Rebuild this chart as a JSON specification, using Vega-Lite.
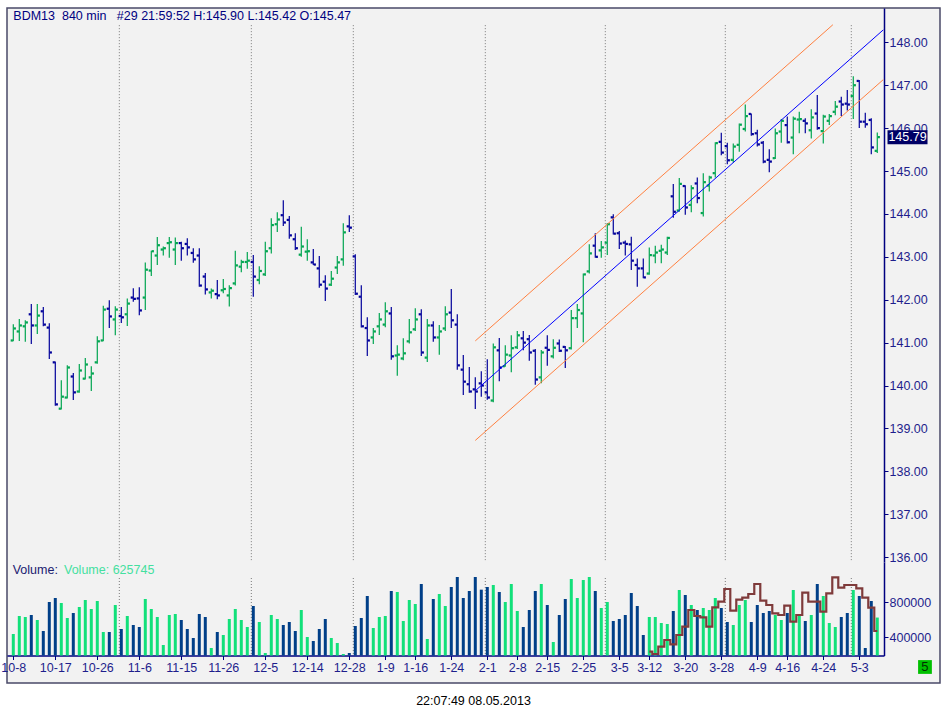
{
"$schema": "https://vega.github.io/schema/vega-lite/v6.json",
"width": 933, "height": 675,
"autosize": {"type": "none"},
"padding": {"left": 7, "top": 8, "right": 2, "bottom": 35},
"background": "#ffffff",
"config": {"font": "Liberation Sans", "view": {"fill": "#f2f2f2", "stroke": "#4a4a68", "strokeWidth": 1.5}},
"title": {"text": "22:07:49 08.05.2013", "orient": "bottom", "anchor": "middle", "offset": 12, "fontSize": 12.5, "fontWeight": "normal", "color": "#000000", "font": "Liberation Sans"},
"datasets": {
"months": [{"g": 17.67}, {"g": 39.67}, {"g": 56.67}, {"g": 78.67}, {"g": 98.67}, {"g": 118.67}, {"g": 139.67}],
"chan": [
{"ln": "upper", "i": 77.0, "p": 141.04}, {"ln": "upper", "i": 136.6, "p": 148.41},
{"ln": "mid", "i": 77.1, "p": 139.89}, {"ln": "mid", "i": 145.0, "p": 148.29},
{"ln": "lower", "i": 77.0, "p": 138.72}, {"ln": "lower", "i": 145.0, "p": 147.13}
],
"bars": [
{"i":0,"d":"10-8","o":141.05,"h":141.43,"l":141.03,"c":141.33,"v":437700},
{"i":1,"d":"10-9","o":141.26,"h":141.55,"l":141.04,"c":141.40,"v":643400},
{"i":2,"d":"10-10","o":141.38,"h":141.52,"l":141.02,"c":141.47,"v":632000},
{"i":3,"d":"10-11","o":141.66,"h":141.90,"l":140.97,"c":141.40,"v":654900},
{"i":4,"d":"10-12","o":141.40,"h":141.90,"l":141.20,"c":141.63,"v":597700},
{"i":5,"d":"10-15","o":141.73,"h":141.83,"l":141.38,"c":141.42,"v":472000},
{"i":6,"d":"10-16","o":141.35,"h":141.45,"l":140.62,"c":140.77,"v":803400},
{"i":7,"d":"10-17","o":140.54,"h":140.56,"l":139.53,"c":139.56,"v":849100},
{"i":8,"d":"10-18","o":139.46,"h":140.12,"l":139.44,"c":139.74,"v":792000},
{"i":9,"d":"10-19","o":139.72,"h":140.47,"l":139.70,"c":140.42,"v":620600},
{"i":10,"d":"10-22","o":140.21,"h":140.29,"l":139.66,"c":139.84,"v":677700},
{"i":11,"d":"10-23","o":139.86,"h":140.50,"l":139.83,"c":140.35,"v":746300},
{"i":12,"d":"10-24","o":140.16,"h":140.64,"l":140.14,"c":140.49,"v":826300},
{"i":13,"d":"10-25","o":140.19,"h":140.45,"l":139.87,"c":140.28,"v":723400},
{"i":14,"d":"10-26","o":140.54,"h":141.15,"l":140.51,"c":141.03,"v":814900},
{"i":15,"d":"10-29","o":141.05,"h":141.86,"l":141.03,"c":141.77,"v":460600},
{"i":16,"d":"10-30","o":141.79,"h":141.99,"l":141.34,"c":141.61,"v":460600},
{"i":17,"d":"10-31","o":141.54,"h":141.85,"l":141.17,"c":141.77,"v":769100},
{"i":18,"d":"11-1","o":141.62,"h":141.83,"l":141.46,"c":141.59,"v":494900},
{"i":19,"d":"11-2","o":141.66,"h":142.03,"l":141.39,"c":141.91,"v":643400},
{"i":20,"d":"11-5","o":142.05,"h":142.27,"l":141.95,"c":142.02,"v":540600},
{"i":21,"d":"11-6","o":142.03,"h":142.29,"l":141.64,"c":141.75,"v":517700},
{"i":22,"d":"11-7","o":142.05,"h":142.87,"l":141.76,"c":142.70,"v":837700},
{"i":23,"d":"11-8","o":142.68,"h":143.14,"l":142.55,"c":143.13,"v":723400},
{"i":24,"d":"11-9","o":143.03,"h":143.46,"l":142.81,"c":143.27,"v":632000},
{"i":25,"d":"11-12","o":143.17,"h":143.24,"l":143.03,"c":143.20,"v":312000},
{"i":26,"d":"11-13","o":143.32,"h":143.46,"l":142.98,"c":143.34,"v":654900},
{"i":27,"d":"11-14","o":143.17,"h":143.45,"l":142.81,"c":143.32,"v":666300},
{"i":28,"d":"11-15","o":143.32,"h":143.35,"l":142.91,"c":143.20,"v":597700},
{"i":29,"d":"11-16","o":143.30,"h":143.43,"l":143.03,"c":143.22,"v":494900},
{"i":30,"d":"11-19","o":143.09,"h":143.20,"l":142.86,"c":142.94,"v":392000},
{"i":31,"d":"11-20","o":143.03,"h":143.20,"l":142.30,"c":142.33,"v":666300},
{"i":32,"d":"11-21","o":142.54,"h":142.62,"l":142.12,"c":142.24,"v":632000},
{"i":33,"d":"11-22","o":142.17,"h":142.26,"l":142.03,"c":142.21,"v":277700},
{"i":34,"d":"11-23","o":142.13,"h":142.46,"l":142.01,"c":142.10,"v":460600},
{"i":35,"d":"11-26","o":142.22,"h":142.48,"l":142.15,"c":142.25,"v":426300},
{"i":36,"d":"11-27","o":142.10,"h":142.34,"l":141.84,"c":142.27,"v":609100},
{"i":37,"d":"11-28","o":142.38,"h":143.14,"l":142.33,"c":142.80,"v":723400},
{"i":38,"d":"11-29","o":142.77,"h":142.93,"l":142.64,"c":142.88,"v":597700},
{"i":39,"d":"11-30","o":142.88,"h":143.11,"l":142.72,"c":142.91,"v":517700},
{"i":40,"d":"12-3","o":142.88,"h":143.04,"l":142.07,"c":142.54,"v":757700},
{"i":41,"d":"12-4","o":142.46,"h":142.78,"l":142.36,"c":142.67,"v":574900},
{"i":42,"d":"12-5","o":142.59,"h":143.35,"l":142.55,"c":143.13,"v":220600},
{"i":43,"d":"12-6","o":143.20,"h":143.90,"l":143.08,"c":143.74,"v":654900},
{"i":44,"d":"12-7","o":143.76,"h":144.04,"l":143.58,"c":143.87,"v":609100},
{"i":45,"d":"12-10","o":143.97,"h":144.32,"l":143.72,"c":143.80,"v":540600},
{"i":46,"d":"12-11","o":143.86,"h":143.95,"l":143.42,"c":143.50,"v":574900},
{"i":47,"d":"12-12","o":143.41,"h":143.55,"l":143.16,"c":143.20,"v":472000},
{"i":48,"d":"12-13","o":143.05,"h":143.70,"l":143.00,"c":143.24,"v":712000},
{"i":49,"d":"12-14","o":143.12,"h":143.41,"l":142.91,"c":143.13,"v":403400},
{"i":50,"d":"12-17","o":142.87,"h":143.18,"l":142.81,"c":142.82,"v":357700},
{"i":51,"d":"12-18","o":142.73,"h":143.02,"l":142.28,"c":142.35,"v":494900},
{"i":52,"d":"12-19","o":142.42,"h":142.57,"l":141.97,"c":142.26,"v":609100},
{"i":53,"d":"12-20","o":142.35,"h":142.67,"l":142.32,"c":142.49,"v":392000},
{"i":54,"d":"12-21","o":142.75,"h":143.02,"l":142.60,"c":142.87,"v":334900},
{"i":55,"d":"12-27","o":142.94,"h":143.78,"l":142.79,"c":143.57,"v":209100},
{"i":56,"d":"12-28","o":143.71,"h":143.97,"l":143.58,"c":143.68,"v":220600},
{"i":57,"d":"1-2","o":143.01,"h":143.06,"l":142.11,"c":142.14,"v":529100},
{"i":58,"d":"1-3","o":142.07,"h":142.34,"l":141.35,"c":141.38,"v":620600},
{"i":59,"d":"1-4","o":141.34,"h":141.59,"l":140.69,"c":141.05,"v":872000},
{"i":60,"d":"1-7","o":141.12,"h":141.34,"l":140.97,"c":141.26,"v":506300},
{"i":61,"d":"1-8","o":141.38,"h":141.69,"l":141.18,"c":141.54,"v":632000},
{"i":62,"d":"1-9","o":141.42,"h":141.94,"l":141.36,"c":141.73,"v":643400},
{"i":63,"d":"1-10","o":141.68,"h":141.83,"l":140.60,"c":140.68,"v":929100},
{"i":64,"d":"1-11","o":140.70,"h":140.94,"l":140.23,"c":140.72,"v":917700},
{"i":65,"d":"1-14","o":140.63,"h":141.10,"l":140.59,"c":140.75,"v":586300},
{"i":66,"d":"1-15","o":141.03,"h":141.55,"l":140.98,"c":141.24,"v":826300},
{"i":67,"d":"1-16","o":141.31,"h":141.80,"l":141.27,"c":141.54,"v":780600},
{"i":68,"d":"1-17","o":141.66,"h":141.78,"l":140.69,"c":140.77,"v":1009100},
{"i":69,"d":"1-18","o":140.65,"h":141.55,"l":140.55,"c":141.40,"v":380600},
{"i":70,"d":"1-21","o":141.40,"h":141.50,"l":141.02,"c":141.12,"v":837700},
{"i":71,"d":"1-22","o":141.12,"h":141.41,"l":140.72,"c":141.26,"v":894900},
{"i":72,"d":"1-23","o":141.33,"h":141.85,"l":141.27,"c":141.66,"v":757700},
{"i":73,"d":"1-24","o":141.70,"h":142.25,"l":141.34,"c":141.52,"v":974900},
{"i":74,"d":"1-25","o":141.42,"h":141.66,"l":140.37,"c":140.47,"v":1089100},
{"i":75,"d":"1-28","o":140.37,"h":140.71,"l":139.78,"c":140.09,"v":849100},
{"i":76,"d":"1-29","o":140.03,"h":140.43,"l":139.83,"c":139.86,"v":929100},
{"i":77,"d":"1-30","o":139.91,"h":140.19,"l":139.45,"c":139.86,"v":1089100},
{"i":78,"d":"1-31","o":140.05,"h":140.33,"l":139.74,"c":140.00,"v":944400},
{"i":79,"d":"2-1","o":139.84,"h":140.61,"l":139.67,"c":139.72,"v":974900},
{"i":80,"d":"2-4","o":139.65,"h":140.98,"l":139.61,"c":140.89,"v":997700},
{"i":81,"d":"2-5","o":140.82,"h":141.11,"l":140.10,"c":140.42,"v":917700},
{"i":82,"d":"2-6","o":140.45,"h":140.94,"l":140.44,"c":140.72,"v":803400},
{"i":83,"d":"2-7","o":140.70,"h":141.17,"l":140.31,"c":140.87,"v":1009100},
{"i":84,"d":"2-8","o":140.89,"h":141.27,"l":140.85,"c":141.17,"v":700600},
{"i":85,"d":"2-11","o":141.10,"h":141.27,"l":140.82,"c":141.00,"v":517700},
{"i":86,"d":"2-12","o":141.08,"h":141.18,"l":140.58,"c":140.77,"v":712000},
{"i":87,"d":"2-13","o":140.81,"h":140.85,"l":140.02,"c":140.14,"v":929100},
{"i":88,"d":"2-14","o":140.19,"h":140.83,"l":140.05,"c":140.77,"v":1009100},
{"i":89,"d":"2-15","o":140.88,"h":141.17,"l":140.46,"c":140.83,"v":769100},
{"i":90,"d":"2-18","o":140.68,"h":141.08,"l":140.63,"c":140.88,"v":346300},
{"i":91,"d":"2-19","o":140.98,"h":141.07,"l":140.78,"c":140.81,"v":654900},
{"i":92,"d":"2-20","o":140.90,"h":140.92,"l":140.41,"c":140.82,"v":837700},
{"i":93,"d":"2-21","o":140.87,"h":141.76,"l":140.84,"c":141.57,"v":1066300},
{"i":94,"d":"2-22","o":141.57,"h":141.90,"l":141.34,"c":141.76,"v":849100},
{"i":95,"d":"2-25","o":141.68,"h":142.61,"l":141.01,"c":142.59,"v":1054900},
{"i":96,"d":"2-26","o":142.66,"h":143.29,"l":142.61,"c":143.08,"v":1089100},
{"i":97,"d":"2-27","o":143.26,"h":143.55,"l":142.98,"c":143.00,"v":929100},
{"i":98,"d":"2-28","o":143.15,"h":143.37,"l":142.98,"c":143.22,"v":734900},
{"i":99,"d":"3-1","o":143.33,"h":143.79,"l":143.04,"c":143.76,"v":803400},
{"i":100,"d":"3-4","o":143.92,"h":143.99,"l":143.52,"c":143.54,"v":586300},
{"i":101,"d":"3-5","o":143.55,"h":143.60,"l":143.18,"c":143.31,"v":609100},
{"i":102,"d":"3-6","o":143.33,"h":143.38,"l":143.03,"c":143.30,"v":654900},
{"i":103,"d":"3-7","o":143.29,"h":143.47,"l":142.69,"c":142.91,"v":906300},
{"i":104,"d":"3-8","o":142.81,"h":142.96,"l":142.30,"c":142.73,"v":757700},
{"i":105,"d":"3-11","o":142.73,"h":142.96,"l":142.50,"c":142.52,"v":426300},
{"i":106,"d":"3-12","o":142.61,"h":143.22,"l":142.58,"c":143.04,"v":632000,"ma":235800},
{"i":107,"d":"3-13","o":143.03,"h":143.26,"l":142.85,"c":143.10,"v":632000,"ma":209100},
{"i":108,"d":"3-14","o":143.14,"h":143.28,"l":142.85,"c":143.17,"v":563400,"ma":293000},
{"i":109,"d":"3-15","o":143.10,"h":143.47,"l":143.04,"c":143.44,"v":552000,"ma":369100},
{"i":110,"d":"3-18","o":144.41,"h":144.70,"l":143.91,"c":144.05,"v":700600,"ma":319600},
{"i":111,"d":"3-19","o":144.08,"h":144.84,"l":144.05,"c":144.70,"v":940600,"ma":426300},
{"i":112,"d":"3-20","o":144.65,"h":144.67,"l":143.98,"c":144.15,"v":883400,"ma":521500},
{"i":113,"d":"3-21","o":144.21,"h":144.67,"l":144.04,"c":144.60,"v":769100,"ma":712000},
{"i":114,"d":"3-22","o":144.71,"h":144.85,"l":144.25,"c":144.37,"v":712000,"ma":643400},
{"i":115,"d":"3-25","o":144.02,"h":144.95,"l":143.94,"c":144.74,"v":734900,"ma":628200},
{"i":116,"d":"3-26","o":144.66,"h":144.89,"l":144.52,"c":144.85,"v":712000,"ma":521500},
{"i":117,"d":"3-27","o":144.95,"h":145.67,"l":144.85,"c":145.65,"v":849100,"ma":742500},
{"i":118,"d":"3-28","o":145.68,"h":145.89,"l":145.37,"c":145.43,"v":734900,"ma":807300},
{"i":119,"d":"4-2","o":145.58,"h":145.66,"l":145.16,"c":145.25,"v":574900,"ma":952000},
{"i":120,"d":"4-3","o":145.26,"h":145.64,"l":145.19,"c":145.57,"v":540600,"ma":704400},
{"i":121,"d":"4-4","o":145.61,"h":146.11,"l":145.45,"c":146.08,"v":769100,"ma":830200},
{"i":122,"d":"4-5","o":145.98,"h":146.55,"l":145.92,"c":146.28,"v":826300,"ma":853100},
{"i":123,"d":"4-8","o":146.33,"h":146.34,"l":145.82,"c":145.86,"v":574900,"ma":895000},
{"i":124,"d":"4-9","o":145.88,"h":145.96,"l":145.57,"c":145.62,"v":769100,"ma":1009000},
{"i":125,"d":"4-10","o":145.66,"h":145.70,"l":145.18,"c":145.22,"v":677700,"ma":818700},
{"i":126,"d":"4-11","o":145.26,"h":145.51,"l":144.97,"c":145.22,"v":700600,"ma":769200},
{"i":127,"d":"4-12","o":145.30,"h":145.99,"l":145.28,"c":145.88,"v":654900,"ma":674000},
{"i":128,"d":"4-15","o":145.92,"h":146.21,"l":145.66,"c":146.17,"v":597700,"ma":654900},
{"i":129,"d":"4-16","o":146.07,"h":146.27,"l":145.64,"c":145.67,"v":677700,"ma":761600},
{"i":130,"d":"4-17","o":145.78,"h":146.27,"l":145.39,"c":146.22,"v":940600,"ma":578700},
{"i":131,"d":"4-18","o":146.20,"h":146.38,"l":145.88,"c":146.21,"v":666300,"ma":654900},
{"i":132,"d":"4-19","o":146.17,"h":146.23,"l":145.88,"c":146.11,"v":586300,"ma":911000},
{"i":133,"d":"4-22","o":145.95,"h":146.44,"l":145.76,"c":146.25,"v":654900,"ma":807300},
{"i":134,"d":"4-23","o":146.34,"h":146.77,"l":145.96,"c":146.00,"v":1009100,"ma":807300},
{"i":135,"d":"4-24","o":145.93,"h":146.31,"l":145.64,"c":146.27,"v":872000,"ma":692900},
{"i":136,"d":"4-25","o":146.17,"h":146.33,"l":146.07,"c":146.28,"v":563400,"ma":902500},
{"i":137,"d":"4-26","o":146.38,"h":146.63,"l":146.30,"c":146.50,"v":517700,"ma":1085300},
{"i":138,"d":"4-29","o":146.62,"h":146.73,"l":146.28,"c":146.55,"v":632000,"ma":967200},
{"i":139,"d":"4-30","o":146.57,"h":146.89,"l":146.41,"c":146.55,"v":677700,"ma":997700},
{"i":140,"d":"5-2","o":146.75,"h":147.21,"l":146.21,"c":147.00,"v":940600,"ma":997700},
{"i":141,"d":"5-3","o":147.10,"h":147.12,"l":146.00,"c":146.15,"v":872000,"ma":959600},
{"i":142,"d":"5-6","o":146.15,"h":146.36,"l":146.01,"c":146.09,"v":277700,"ma":853100},
{"i":143,"d":"5-7","o":146.19,"h":146.23,"l":145.39,"c":145.55,"v":814900,"ma":738800},
{"i":144,"d":"5-8","o":145.47,"h":145.90,"l":145.42,"c":145.79,"v":625745,"ma":472000}
]
},
"layer": [
{
"layer": [
{"data": {"name": "months"}, "mark": {"type": "rule", "color": "#7a7a7a", "strokeDash": [1, 2], "strokeWidth": 1},
 "encoding": {
  "x": {"field": "g", "type": "quantitative", "scale": {"domain": [-1.05, 145.12], "range": [0, 877], "nice": false, "zero": false, "padding": 0},
   "axis": {"orient": "bottom", "offset": -27.5, "title": null, "grid": false,
    "values": [0,7,14,21,28,35,42,49,56,62,67,73,79,84,89,95,101,106,112,118,124,129,135,141],
    "labelExpr": "['10-8','10-17','10-26','11-6','11-15','11-26','12-5','12-14','12-28','1-9','1-16','1-24','2-1','2-8','2-15','2-25','3-5','3-12','3-20','3-28','4-9','4-16','4-24','5-3'][indexof([0,7,14,21,28,35,42,49,56,62,67,73,79,84,89,95,101,106,112,118,124,129,135,141], datum.value)]",
    "domainColor": "#000080", "domainWidth": 1.5, "tickColor": "#000080", "tickSize": 4, "labelPadding": 2,
    "labelColor": "#1e1e8c", "labelFontSize": 12.5, "labelFont": "Liberation Sans", "labelFlush": false, "labelOverlap": false, "labelBound": false}},
  "y": {"datum": 148.40, "type": "quantitative", "scale": {"domain": [135.886, 148.80], "range": [554, 0], "nice": false, "zero": false, "padding": 0},
   "axis": {"orient": "right", "offset": -56, "title": null, "grid": false, "values": [136,137,138,139,140,141,142,143,144,145,146,147,148], "format": ".2f",
    "domainColor": "#000080", "domainWidth": 1.5, "tickColor": "#000080", "tickSize": 4, "labelPadding": 1,
    "labelColor": "#1e1e8c", "labelFontSize": 12.5, "labelFont": "Liberation Sans", "labelOverlap": false, "labelBound": false}},
  "y2": {"datum": 135.93}}},
{"data": {"name": "bars"}, "mark": {"type": "rule", "strokeWidth": 1.2},
 "encoding": {
  "x": {"field": "i", "type": "quantitative"},
  "y": {"field": "l", "type": "quantitative"},
  "y2": {"field": "h"},
  "color": {"condition": {"test": "datum.c >= datum.o", "value": "#00a550"}, "value": "#00009a"}}},
{"data": {"name": "bars"}, "mark": {"type": "square", "size": 5, "xOffset": -1.5, "opacity": 1},
 "encoding": {
  "x": {"field": "i", "type": "quantitative"},
  "y": {"field": "o", "type": "quantitative"},
  "color": {"condition": {"test": "datum.c >= datum.o", "value": "#00a550"}, "value": "#00009a"}}},
{"data": {"name": "bars"}, "mark": {"type": "square", "size": 5, "xOffset": 1.5, "opacity": 1},
 "encoding": {
  "x": {"field": "i", "type": "quantitative"},
  "y": {"field": "c", "type": "quantitative"},
  "color": {"condition": {"test": "datum.c >= datum.o", "value": "#00a550"}, "value": "#00009a"}}},
{"data": {"name": "chan"}, "mark": {"type": "line", "strokeWidth": 1},
 "encoding": {
  "x": {"field": "i", "type": "quantitative"},
  "y": {"field": "p", "type": "quantitative"},
  "color": {"field": "ln", "type": "nominal", "scale": {"domain": ["upper", "mid", "lower"], "range": ["#ff8040", "#0000ff", "#ff8040"]}, "legend": null}}},
{"data": {"values": [{"t": "BDM13\u00a0 840 min\u00a0\u00a0 #29 21:59:52 H:145.90 L:145.42 O:145.47"}]},
 "mark": {"type": "text", "align": "left", "baseline": "middle", "fontSize": 12.5, "color": "#000080", "font": "Liberation Sans"},
 "encoding": {"x": {"datum": 0}, "y": {"datum": 148.613}, "text": {"field": "t"}}},
{"data": {"values": [{"t": "145.79"}]},
 "mark": {"type": "point", "shape": "M-1,-0.35L1,-0.35L1,0.35L-1,0.35Z", "size": 1600, "filled": true, "color": "#000066", "opacity": 1},
 "encoding": {"x": {"datum": 149.04}, "y": {"datum": 145.79}}},
{"data": {"values": [{"t": "145.79"}]},
 "mark": {"type": "text", "align": "center", "baseline": "middle", "fontSize": 12.5, "color": "#ffffff", "font": "Liberation Sans"},
 "encoding": {"x": {"datum": 149.04}, "y": {"datum": 145.79}, "text": {"field": "t"}}}
]
},
{
"layer": [
{"data": {"name": "months"}, "mark": {"type": "rule", "color": "#7a7a7a", "strokeDash": [1, 2], "strokeWidth": 1},
 "encoding": {
  "x": {"field": "g", "type": "quantitative"},
  "y": {"datum": 1077700, "type": "quantitative", "scale": {"domain": [192000, 1260600], "range": [647.5, 554], "nice": false, "zero": false, "padding": 0},
   "axis": {"orient": "right", "offset": -56, "title": null, "grid": false, "values": [400000, 800000], "format": "d",
    "domainColor": "#000080", "domainWidth": 1.5, "tickColor": "#000080", "tickSize": 4, "labelPadding": 1,
    "labelColor": "#1e1e8c", "labelFontSize": 12.5, "labelFont": "Liberation Sans", "labelOverlap": false, "labelBound": false}},
  "y2": {"datum": 192000}}},
{"data": {"name": "bars"}, "mark": {"type": "bar", "size": 3, "orient": "vertical"},
 "encoding": {
  "x": {"field": "i", "type": "quantitative"},
  "y": {"field": "v", "type": "quantitative"},
  "y2": {"datum": 192000},
  "color": {"condition": {"test": "datum.c >= datum.o", "value": "#12e07a"}, "value": "#003f88"}}},
{"data": {"name": "bars"}, "transform": [{"filter": "isValid(datum.ma)"}],
 "mark": {"type": "line", "interpolate": "step", "color": "#7f3b3b", "strokeWidth": 2.2},
 "encoding": {
  "x": {"field": "i", "type": "quantitative"},
  "y": {"field": "ma", "type": "quantitative"}}},
{"data": {"values": [{"t": "Volume:"}]},
 "mark": {"type": "text", "align": "left", "baseline": "middle", "fontSize": 12.5, "color": "#202070", "font": "Liberation Sans"},
 "encoding": {"x": {"datum": -0.1}, "y": {"datum": 1169100}, "text": {"field": "t"}}},
{"data": {"values": [{"t": "Volume: 625745"}]},
 "mark": {"type": "text", "align": "left", "baseline": "middle", "fontSize": 12.5, "color": "#44e0a0", "font": "Liberation Sans"},
 "encoding": {"x": {"datum": 8.45}, "y": {"datum": 1169100}, "text": {"field": "t"}}},
{"data": {"values": [{"t": "5"}]},
 "mark": {"type": "square", "size": 190, "color": "#00c000", "opacity": 1},
 "encoding": {"x": {"datum": 151.95}, "y": {"datum": 60600}}},
{"data": {"values": [{"t": "5"}]},
 "mark": {"type": "text", "align": "center", "baseline": "middle", "fontSize": 13, "color": "#003000", "font": "Liberation Sans"},
 "encoding": {"x": {"datum": 151.95}, "y": {"datum": 60600}, "text": {"field": "t"}}}
]
}
],
"resolve": {"scale": {"y": "independent"}, "axis": {"y": "independent"}}
}
